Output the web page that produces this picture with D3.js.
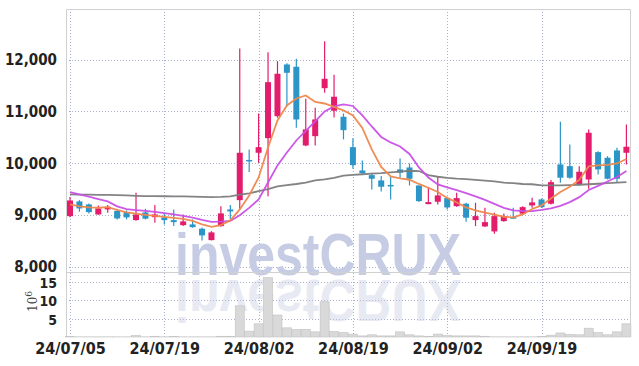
<!DOCTYPE html>
<html>
<head>
<meta charset="utf-8">
<script src="https://cdn.jsdelivr.net/npm/d3@7"></script>
<style>
  body { margin: 0; background: #fff; }
  svg { display: block; }
  .tick text { font-family: "Liberation Sans Narrow", "DejaVu Sans Condensed", sans-serif; font-weight: bold; fill: #222; }
</style>
</head>
<body>
<svg id="chart" width="639" height="366"></svg>
<script>
// trading days
const dates = ["24/07/05","24/07/08","24/07/09","24/07/10","24/07/11","24/07/12","24/07/15","24/07/16","24/07/17","24/07/18",
  "24/07/19","24/07/22","24/07/23","24/07/24","24/07/25","24/07/26","24/07/29","24/07/30","24/07/31","24/08/01",
  "24/08/02","24/08/05","24/08/06","24/08/07","24/08/08","24/08/09","24/08/12","24/08/13","24/08/14","24/08/16",
  "24/08/19","24/08/20","24/08/21","24/08/22","24/08/23","24/08/26","24/08/27","24/08/28","24/08/29","24/08/30",
  "24/09/02","24/09/03","24/09/04","24/09/05","24/09/06","24/09/09","24/09/10","24/09/11","24/09/12","24/09/13",
  "24/09/19","24/09/20","24/09/23","24/09/24","24/09/25","24/09/26","24/09/27","24/09/30","24/10/02","24/10/04"];

const opens = [8980,9264,9206,9013,9110,9081,9058,8904,9052,8961,
  8956,8904,8807,8821,8738,8518,8788,9110,9289,10064,
  10202,10484,10908,11904,11860,10343,10522,11447,11012,10896,
  10310,9861,9771,9669,9582,9881,9919,9572,9212,9258,
  9328,9173,9220,8904,8782,8686,8884,8961,9027,9187,
  9303,9220,9977,9944,9597,9688,10214,10106,10247,10202];
const highs = [9347,9289,9225,9187,9193,9110,9090,9432,9123,9193,
  9046,9110,9013,8917,8763,8692,9173,9193,12210,10266,
  10960,12141,11968,11930,12014,11243,11070,12353,11706,10960,
  10484,10054,9817,9752,9740,10093,9996,9572,9528,9740,
  9355,9432,9239,9239,9142,9046,9033,9142,9173,9335,
  9320,9675,10800,10362,9944,10652,10233,10137,10299,10748];
const lows = [8961,9066,9033,9008,9046,8917,8917,8892,8917,8853,
  8821,8788,8788,8757,8513,8513,8776,8917,9110,9829,
  10010,9366,10877,11100,10684,10330,10343,11359,10883,10459,
  9894,9784,9495,9457,9303,9721,9572,9251,9212,9206,
  9110,9162,8873,8788,8769,8642,8873,8931,9027,9142,
  9140,9206,9624,9701,9572,9509,9784,9688,9624,9977];
const closes = [9283,9129,9058,9129,9162,8936,8956,9013,8931,9013,
  8904,8865,8879,8769,8609,8667,9033,9071,10202,10044,
  10310,11563,11725,11744,10844,10652,10844,11628,11282,10638,
  9964,9809,9701,9547,9563,9817,9701,9270,9251,9380,
  9148,9328,8950,8981,8865,8981,8981,8931,9154,9245,
  9154,9636,9721,9721,9836,10588,9881,9701,9701,10318];
// volume, 10^6 shares
const volumes = [0.2,0.05,0.05,0.05,0.05,0.05,0.05,0.4,0.05,0.2,
  0.05,0.2,0.05,0.05,0.05,0.05,0.2,0.2,8.5,1.6,
  3.6,16.2,6.0,2.5,2.0,2.1,1.4,9.6,1.5,1.2,
  0.8,0.3,0.6,0.3,0.3,1.4,0.6,0.3,0.2,0.8,
  0.4,0.3,0.3,0.3,0.2,0.05,0.05,0.05,0.05,0.05,
  0.1,0.5,1.1,0.7,0.6,2.4,1.2,0.6,1.4,3.6];

// moving average lines
const ma5 = [9206,9168,9148,9142,9154,9100,9052,9027,9004,8985,
  8965,8946,8927,8888,8821,8773,8807,8898,9110,9380,
  9726,10305,10825,11114,11249,11306,11181,11152,11085,11018,
  10921,10680,10266,9928,9746,9707,9682,9601,9528,9447,
  9332,9245,9148,9090,9046,9008,8969,8956,9013,9119,
  9187,9322,9447,9547,9678,9939,9958,9968,9996,10083];
const ma20 = [9443,9399,9355,9310,9264,9168,9116,9098,9083,9062,
  9040,9013,8987,8952,8908,8869,8873,8888,8998,9139,
  9303,9630,9958,10208,10439,10623,10806,10998,11095,11133,
  11104,10921,10709,10507,10401,10324,10179,9919,9726,9592,
  9534,9480,9424,9360,9295,9216,9139,9091,9077,9077,
  9100,9129,9177,9251,9347,9486,9563,9649,9736,9852];
const ma60 = [9399,9397,9395,9392,9390,9385,9380,9372,9368,9366,
  9364,9362,9360,9356,9350,9348,9350,9360,9395,9420,
  9462,9500,9555,9580,9600,9626,9670,9690,9720,9760,
  9775,9788,9800,9810,9825,9840,9855,9850,9770,9740,
  9720,9705,9695,9680,9665,9650,9625,9615,9600,9595,
  9575,9572,9575,9580,9586,9595,9605,9615,9625,9636];

const priceTicks = [8000, 9000, 10000, 11000, 12000];
const volTicks = [5, 10, 15];
const dateTicks = ["24/07/05","24/07/19","24/08/02","24/08/19","24/09/02","24/09/19"];

const frame = {left: 66, right: 630, top: 9, split: 272, bottom: 337};
const upColor = "#e31c6c", downColor = "#2c95c7";
const gridColor = "#aab0cc";

const svg = d3.select("#chart");

const x = d3.scalePoint().domain(dates).range([70, 626.4]);
const y = d3.scaleLinear().domain([8000, 12000]).range([267, 59.5]);
const yv = d3.scaleLinear().domain([0, 15]).range([frame.bottom, 282]);

svg.append("rect").attr("width", 639).attr("height", 366).attr("fill", "#fff");

// grid (dotted)
const grid = svg.append("g")
  .attr("stroke", gridColor).attr("stroke-width", 1).attr("stroke-dasharray", "1,2");
grid.selectAll(".hp").data(priceTicks).join("line").attr("class", "hp")
  .attr("x1", frame.left).attr("x2", frame.right)
  .attr("y1", d => Math.round(y(d)) + 0.5).attr("y2", d => Math.round(y(d)) + 0.5);
grid.selectAll(".hv").data(volTicks).join("line").attr("class", "hv")
  .attr("x1", frame.left).attr("x2", frame.right)
  .attr("y1", d => Math.round(yv(d)) + 0.5).attr("y2", d => Math.round(yv(d)) + 0.5);
grid.selectAll(".vx").data(dateTicks).join("line").attr("class", "vx")
  .attr("x1", d => Math.round(x(d)) + 0.5).attr("x2", d => Math.round(x(d)) + 0.5)
  .attr("y1", frame.top).attr("y2", frame.bottom);

// watermark + reflection
const wm = svg.append("g").attr("font-family", "Liberation Sans, Arial, sans-serif").attr("font-weight", "bold");
wm.append("text").attr("x", 175).attr("y", 275).attr("font-size", 60)
  .attr("textLength", 286).attr("lengthAdjust", "spacingAndGlyphs")
  .attr("fill", "#c6cce3").text("investCRUX");
wm.append("text").attr("x", 175).attr("y", 275).attr("font-size", 60)
  .attr("textLength", 286).attr("lengthAdjust", "spacingAndGlyphs")
  .attr("transform", "translate(0,555) scale(1,-1)")
  .attr("fill", "#c6cce3").attr("opacity", 0.4).text("investCRUX");

// frame
svg.append("path")
  .attr("d", `M${frame.left + 0.5},${frame.bottom}V${frame.top + 0.5}H${frame.right + 0.5}V${frame.bottom}M${frame.left},${frame.split + 0.5}H${frame.right}`)
  .attr("fill", "none").attr("stroke", "#d0d0d0").attr("stroke-width", 1);

// volume bars
svg.append("g").selectAll("rect").data(volumes).join("rect")
  .attr("x", (d, i) => x(dates[i]) - 4.5)
  .attr("width", 9)
  .attr("y", d => yv(d))
  .attr("height", d => frame.bottom - yv(d))
  .attr("fill", "#d9d9d9").attr("stroke", "#c2c2c2").attr("stroke-width", 0.6);

// candles
const candles = svg.append("g").selectAll("g").data(dates).join("g");
candles.append("line")
  .attr("x1", d => x(d)).attr("x2", d => x(d))
  .attr("y1", (d, i) => y(highs[i])).attr("y2", (d, i) => y(lows[i]))
  .attr("stroke", (d, i) => closes[i] >= opens[i] ? upColor : downColor).attr("stroke-width", 1.2);
candles.append("rect")
  .attr("x", d => x(d) - 3)
  .attr("width", 6)
  .attr("y", (d, i) => y(Math.max(opens[i], closes[i])))
  .attr("height", (d, i) => Math.max(1.5, Math.abs(y(opens[i]) - y(closes[i]))))
  .attr("fill", (d, i) => closes[i] >= opens[i] ? upColor : downColor);

// moving averages
const line = d3.line().x((d, i) => x(dates[i])).y(d => y(d));
[[ma60, "#7c7c7c"], [ma20, "#c94fe6"], [ma5, "#ef874c"]].forEach(([s, c]) => {
  svg.append("path").datum(s).attr("d", line)
    .attr("fill", "none").attr("stroke", c).attr("stroke-width", 1.8).attr("stroke-opacity", 0.95);
});

// axes
const ay = svg.append("g").attr("transform", "translate(" + (frame.left - 6) + ",0)")
  .call(d3.axisLeft(y).tickValues(priceTicks).tickSize(0).tickFormat(d3.format(",")));
ay.select(".domain").remove();
ay.selectAll("text").attr("font-size", 15).attr("dy", "0.32em");

const av = svg.append("g").attr("transform", "translate(" + (frame.left - 6) + ",0)")
  .call(d3.axisLeft(yv).tickValues(volTicks).tickSize(0));
av.select(".domain").remove();
av.selectAll("text").attr("font-size", 14).attr("dy", "0.4em");

const ax = svg.append("g").attr("transform", "translate(0," + frame.bottom + ")")
  .call(d3.axisBottom(x).tickValues(dateTicks).tickSize(0));
ax.select(".domain").remove();
ax.selectAll("text").attr("font-size", 16).attr("dy", "0.85em");

// volume unit label
const unit = svg.append("text").attr("transform", "translate(37,312) rotate(-90)")
  .attr("font-family", "DejaVu Serif, serif").attr("font-size", 12).attr("fill", "#444");
unit.append("tspan").text("10");
unit.append("tspan").attr("font-size", 9).attr("dy", -5).text("6");
</script>
</body>
</html>
